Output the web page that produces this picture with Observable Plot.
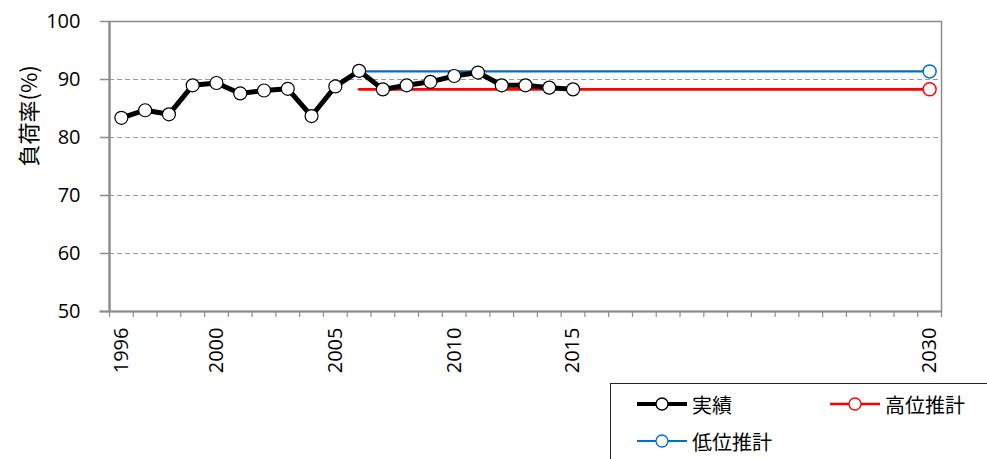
<!DOCTYPE html>
<html><head><meta charset="utf-8">
<script src="https://cdn.jsdelivr.net/npm/d3@7"></script>
<script src="https://cdn.jsdelivr.net/npm/@observablehq/plot@0.6"></script>
<style>
html,body{margin:0;padding:0;background:#fff;overflow:hidden;width:987px;height:459px;}
#wrap{position:relative;width:987px;height:459px;}
#legend{position:absolute;left:610px;top:383px;width:420px;height:100px;border:1.5px solid #222;box-sizing:border-box;font-family:"Noto Sans CJK JP",sans-serif;font-size:20px;color:#000;}
.item{position:absolute;display:flex;align-items:center;height:24px;}
.item svg{margin-right:5px;}
</style></head>
<body><div id="wrap"><div id="chart"></div><div id="legend"></div></div>
<script>
const years = d3.range(1996, 2031);
const actualYears = [1996,1997,1998,1999,2000,2001,2002,2003,2004,2005,2006,2007,2008,2009,2010,2011,2012,2013,2014,2015];
const actualValues = [83.4,84.7,84.0,89.0,89.4,87.6,88.1,88.4,83.7,88.8,91.5,88.3,89.0,89.6,90.6,91.2,89.0,89.0,88.6,88.3];
const highYears = [2006, 2030];
const highValues = [88.3, 88.3];
const lowYears = [2006, 2030];
const lowValues = [91.4, 91.4];
const yTicks = [50,60,70,80,90,100];
const gridTicks = [60,70,80,90];
const xLabelYears = [1996,2000,2005,2010,2015,2030];
const legendNames = ["実績","高位推計","低位推計"];
const yTitle = "負荷率(%)";

const actual = actualYears.map((y,i)=>({year:y, v:actualValues[i]}));
const high = highYears.map((y,i)=>({year:y, v:highValues[i]}));
const low = lowYears.map((y,i)=>({year:y, v:lowValues[i]}));
const boundaries = years.map(y=>y-0.5).concat([years[years.length-1]+0.5]);

const axisColor = "#8c8c8c";
const chart = Plot.plot({
  width: 987,
  height: 383,
  marginLeft: 109,
  marginRight: 46,
  marginTop: 21,
  marginBottom: 72,
  style: {fontFamily: "'Open Sans', sans-serif", fontSize: "20px", color: "#000", background: "#fff"},
  x: {type: "linear", domain: [1995.5, 2030.5]},
  y: {domain: [50, 100]},
  marks: [
    Plot.ruleY(gridTicks, {stroke: "#999", strokeWidth: 1.2, strokeDasharray: "5,3"}),
    Plot.frame({stroke: axisColor, strokeWidth: 1.5}),
    Plot.axisY({ticks: yTicks, tickSize: 9, tickPadding: 20, stroke: axisColor, strokeWidth: 1.5, label: null, fontSize: 20}),
    Plot.axisX({ticks: boundaries, tickSize: 6, tickFormat: () => "", stroke: axisColor, strokeWidth: 1.2, label: null}),
    Plot.axisX({ticks: xLabelYears, tickSize: 0, tickRotate: -90, tickPadding: 16, tickFormat: d => String(d), label: null, fontSize: 20}),
    Plot.ruleX([1995.5], {stroke: axisColor, strokeWidth: 2.2}),
    Plot.ruleY([50], {stroke: axisColor, strokeWidth: 2.2, x1: 1995.1, x2: 2030.5}),
    Plot.text([yTitle], {frameAnchor: "left", dx: -80, rotate: -90, fontFamily: "'Noto Sans CJK JP', sans-serif", fontSize: "22px", fill: "#000"}),
    Plot.line(high, {x: "year", y: "v", stroke: "#ff0000", strokeWidth: 2.8}),
    Plot.line(low, {x: "year", y: "v", stroke: "#0070c0", strokeWidth: 2.2}),
    Plot.line(actual, {x: "year", y: "v", stroke: "#000", strokeWidth: 5}),
    Plot.dot(actual, {x: "year", y: "v", r: 6.5, fill: "#fff", stroke: "#000", strokeWidth: 1.2}),
    Plot.dot(high.slice(1), {x: "year", y: "v", r: 6.5, fill: "#fff", stroke: "#ff0000", strokeWidth: 1.5}),
    Plot.dot(low.slice(1), {x: "year", y: "v", r: 6.5, fill: "#fff", stroke: "#0070c0", strokeWidth: 1.5})
  ]
});
document.getElementById("chart").appendChild(chart);

const legendColors = ["#000","#ff0000","#0070c0"];
const legendWidths = [4,2.5,2];
const legendPos = [[26,8],[219,8],[26,45]];
const leg = document.getElementById("legend");
legendNames.forEach((name,i)=>{
  const d = document.createElement("div");
  d.className = "item";
  d.style.left = legendPos[i][0] + "px";
  d.style.top = legendPos[i][1] + "px";
  d.innerHTML = `<svg width="50" height="20"><line x1="0" y1="10" x2="50" y2="10" stroke="${legendColors[i]}" stroke-width="${legendWidths[i]}"/><circle cx="25" cy="10" r="6" fill="#fff" stroke="${legendColors[i]}" stroke-width="1.3"/></svg><span>${name}</span>`;
  leg.appendChild(d);
});
</script></body></html>
